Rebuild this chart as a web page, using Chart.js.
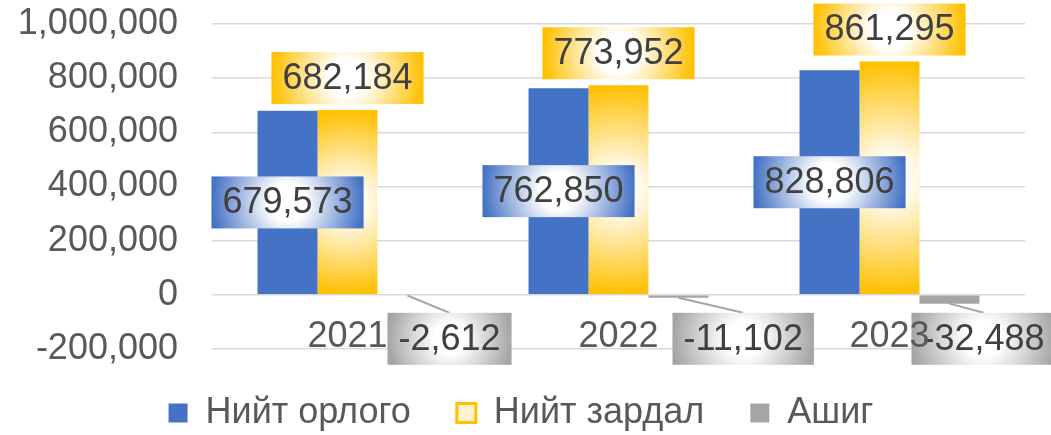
<!DOCTYPE html>
<html>
<head>
<meta charset="utf-8">
<script src="https://cdn.jsdelivr.net/npm/chart.js@4/dist/chart.umd.min.js"></script>
<style>
  html, body { margin: 0; padding: 0; background: #fff; }
  #wrap { width: 1051px; height: 435px; }
</style>
</head>
<body>
<div id="wrap"><canvas id="chart"></canvas></div>
<script>
const years = ['2021', '2022', '2023'];
const revenue = [679573, 762850, 828806];
const expense = [682184, 773952, 861295];
const profit = [-2612, -11102, -32488];
const seriesNames = ['Нийт орлого', 'Нийт зардал', 'Ашиг'];
const yMin = -200000, yMax = 1000000, yStep = 200000;

const FONT = '"Liberation Sans", Arial, sans-serif';
const BLUE = '#4472C4', GOLD = '#FFC000', GRAY = '#A5A5A5';
// where the profit label boxes sit, relative to their bar (px)
const profitShift = [-20, -6, -38];

function goldFill(ctx) {
  const chart = ctx.chart;
  if (ctx.type !== 'data' || !chart.scales.y) return '#FFE699';
  const ys = chart.scales.y, xs = chart.scales.x;
  const top = ys.getPixelForValue(ctx.parsed.y);
  const base = ys.getPixelForValue(0);
  const cx = xs.getPixelForValue(ctx.dataIndex);
  const cy = (top + base) / 2;
  const r = Math.abs(base - top) / 2 || 1;
  const g = chart.ctx.createRadialGradient(cx, cy, 0, cx, cy, r);
  g.addColorStop(0, '#FFFFFF');
  g.addColorStop(0.15, '#FFFFFF');
  g.addColorStop(1, GOLD);
  return g;
}

function drawBox(c, txt, cx, cy, color) {
  const w = c.measureText(txt).width + 22, h = 52;
  const g = c.createRadialGradient(cx, cy, 0, cx, cy, w / 2);
  g.addColorStop(0, '#FFFFFF');
  g.addColorStop(0.25, '#FFFFFF');
  g.addColorStop(1, color);
  c.fillStyle = g;
  c.fillRect(cx - w / 2, cy - h / 2, w, h);
  c.fillStyle = '#404040';
  c.fillText(txt, cx, cy + 1);
}

const labelPlugin = {
  id: 'boxLabels',
  afterDatasetsDraw(chart) {
    const c = chart.ctx;
    const ys = chart.scales.y, xs = chart.scales.x;
    const zero = ys.getPixelForValue(0);
    const colors = [BLUE, GOLD, GRAY];
    c.save();
    c.font = '36px ' + FONT;
    c.textAlign = 'center';
    c.textBaseline = 'middle';
    chart.data.datasets.forEach((ds, di) => {
      chart.getDatasetMeta(di).data.forEach((bar, i) => {
        const txt = ds.data[i].toLocaleString('en-US');
        const w = c.measureText(txt).width + 22, h = 52;
        if (di === 0) {
          drawBox(c, txt, bar.x, (bar.y + bar.base) / 2, colors[di]);
        } else if (di === 1) {
          drawBox(c, txt, bar.x, bar.y - 6 - h / 2, colors[di]);
        } else {
          const left = bar.x + profitShift[i];
          const top = zero + 18;
          c.strokeStyle = GRAY;
          c.lineWidth = 2;
          c.beginPath();
          c.moveTo(bar.x, bar.y);
          c.lineTo(left + w / 2, top);
          c.stroke();
          drawBox(c, txt, left + w / 2, top + h / 2, colors[di]);
        }
      });
    });
    // category labels
    c.fillStyle = '#595959';
    years.forEach((y, i) => {
      c.fillText(y, xs.getPixelForValue(i), zero + 42);
    });
    c.restore();
  }
};

new Chart(document.getElementById('chart'), {
  type: 'bar',
  data: {
    labels: years,
    datasets: [
      { label: seriesNames[0], data: revenue, backgroundColor: BLUE },
      { label: seriesNames[1], data: expense, backgroundColor: goldFill },
      { label: seriesNames[2], data: profit, backgroundColor: GRAY }
    ]
  },
  options: {
    responsive: true,
    maintainAspectRatio: false,
    animation: false,
    datasets: { bar: { categoryPercentage: 0.664, barPercentage: 1.0 } },
    layout: { padding: { top: 0, left: 17, right: 26, bottom: -6 } },
    plugins: {
      tooltip: { enabled: false },
      legend: {
        position: 'bottom',
        labels: {
          font: { family: FONT, size: 36 },
          color: '#595959',
          boxWidth: 19,
          boxHeight: 19,
          padding: 46,
          generateLabels(chart) {
            const fills = [BLUE, '#FFF2CC', GRAY];
            const strokes = [BLUE, GOLD, GRAY];
            return chart.data.datasets.map((ds, i) => ({
              text: ds.label,
              fillStyle: fills[i],
              strokeStyle: strokes[i],
              lineWidth: i === 1 ? 3 : 0,
              fontColor: '#595959',
              datasetIndex: i
            }));
          }
        }
      }
    },
    scales: {
      x: { display: false },
      y: {
        min: yMin,
        max: yMax,
        border: { display: false },
        grid: { color: '#D9D9D9', lineWidth: 1.5, drawTicks: false },
        ticks: {
          stepSize: yStep,
          padding: 34,
          color: '#595959',
          font: { family: FONT, size: 36 },
          callback: v => v.toLocaleString('en-US')
        },
        afterFit(scale) {
          scale.width = 195;
          scale.paddingTop = 24;
        }
      }
    }
  },
  plugins: [labelPlugin]
});
</script>
</body>
</html>
